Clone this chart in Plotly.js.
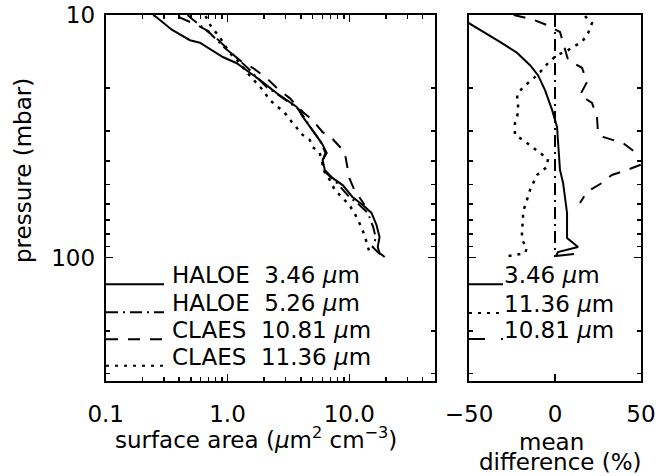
<!DOCTYPE html>
<html><head><meta charset="utf-8">
<script src="https://cdn.plot.ly/plotly-3.0.1.min.js"></script>
<style>body{margin:0;padding:0;background:#fff}</style>
</head><body><div id="chart" style="width:656px;height:476px"></div>
<script>
// ---- Left panel: surface area (um^2 cm^-3) vs pressure (mbar)
const haloe346P = [10.0, 10.1, 11.5, 12.7, 13.0, 14.9, 15.8, 16.5, 18.5, 21.0, 21.8, 23.9, 26.3, 29.8, 33.7, 37.0, 39.6, 43.5, 47.0, 50.2, 56.2, 60.6, 65.4, 73.3, 82.2, 90.3, 95.7, 99.3];
const haloe346S = [0.245, 0.254, 0.349, 0.491, 0.593, 0.915, 1.19, 1.34, 1.84, 2.54, 2.84, 3.70, 4.15, 5.0, 5.93, 6.52, 6.04, 6.28, 7.3, 8.81, 10.6, 12.9, 15.2, 16.7, 17.7, 17.1, 17.7, 19.5];

const haloe526P = [10.0, 10.2, 11.0, 11.9, 13.5, 15.0, 16.9, 19.8, 21.0, 24.6, 28.9, 32.7, 37.0, 40.0, 43.5, 49.2, 56.2, 60.6, 65.4, 74.8, 83.0, 90.3, 95.7, 99.3];
const haloe526S = [0.47, 0.49, 0.59, 0.72, 0.92, 1.19, 1.53, 2.09, 2.5, 3.9, 4.75, 5.7, 6.37, 6.0, 6.1, 7.9, 10.0, 12.1, 14.2, 15.7, 16.5, 15.5, 17.4, 19.4];

const claes1081P = [10.2, 11.0, 11.75, 14.6, 15.6, 16.5, 18.2, 20.0, 22.0, 25.1, 27.1, 30.4, 32.1, 36.7, 40.7, 47.0, 52.6, 58.9, 60.5];
const claes1081S = [0.40, 0.56, 0.72, 1.12, 1.31, 1.61, 2.10, 2.54, 3.24, 4.15, 5.0, 6.04, 7.16, 9.15, 9.5, 10.0, 11.0, 12.9, 13.3];

const claes1136P = [10.1, 11.3, 12.3, 13.0, 14.6, 15.3, 17.2, 19.1, 20.4, 22.4, 23.9, 25.3, 27.6, 29.2, 31.2, 32.7, 35.0, 37.0, 40.7, 44.4, 47.8, 52.6, 56.2, 60.7, 65.4, 71.9, 80.6, 87.0, 95.7];
const claes1136S = [0.66, 0.743, 0.865, 0.915, 1.08, 1.19, 1.44, 1.74, 1.95, 2.22, 2.58, 2.95, 3.37, 3.70, 4.14, 4.73, 5.0, 5.71, 6.04, 6.28, 6.90, 7.59, 8.65, 10.0, 11.0, 12.1, 13.3, 13.9, 14.7];

// ---- Right panel: mean difference (%) vs pressure (mbar)
const diff346P = [10.0, 10.8, 11.75, 12.9, 14.3, 16.1, 17.7, 20.4, 24.6, 28.9, 32.7, 37.0, 43.5, 49.2, 56.2, 65.4, 74.8, 83.0, 90.3, 94.8, 98.4, 96.6];
const diff346D = [-58, -50, -41.9, -32.0, -22.1, -14.5, -9.9, -5.8, -1.7, 1.2, 1.7, 2.3, 2.9, 4.7, 5.8, 7.0, 7.0, 7.0, 13.4, 1.7, 0.6, 11.0];

const diff526P = [10.0, 30.0, 60.0, 99.3];
const diff526D = [0, 0, 0, 0];

const diff1136P = [10.1, 10.8, 11.9, 12.9, 13.55, 14.2, 14.6, 15.8, 17.2, 18.5, 19.8, 21.4, 23.1, 25.3, 27.9, 31.2, 32.7, 35.0, 37.0, 39.2, 42.3, 45.6, 52.6, 57.8, 64.8, 70.0, 76.9, 84.5, 91.2, 95.7, 97.5, 99.3];
const diff1136D = [17.4, 21.5, 19.2, 15.7, 10.5, 5.8, 1.2, -4.1, -8.7, -13.4, -18.6, -22.1, -21.5, -21.5, -23.3, -23.3, -18.6, -12.8, -8.7, -4.1, -4.7, -10.5, -14.5, -16.3, -18.6, -18.6, -19.2, -19.2, -16.3, -17.4, -23.3, -30.2];

const diff1081P = [10.0, 10.2, 10.4, 11.0, 11.75, 15.3, 16.5, 18.9, 21.4, 23.0, 26.3, 30.6, 31.8, 33.7, 36.7, 39.0, 41.5, 43.5, 45.6, 49.2, 53.6, 59.5];
const diff1081D = [-24, -19.2, -13.4, -4.7, 2.9, 7.6, 15.7, 18.6, 14.5, 21.5, 24.4, 25.0, 27.9, 39.5, 46.5, 56, 49.4, 41.9, 33.1, 27.3, 18.6, 14.5];

// ---- ticks / labels
const yTickVals = [10, 100];
const yTickText = ['10', '100'];
const yMinor = [20, 30, 40, 50, 60, 70, 80, 90, 200, 300];
const xTickVals = [0.1, 1, 10];
const xTickText = ['0.1', '1.0', '10.0'];
const xMinor = [0.2, 0.3, 0.4, 0.5, 0.6, 0.7, 0.8, 0.9, 2, 3, 4, 5, 6, 7, 8, 9, 20, 30, 40];
const x2TickVals = [-50, 0, 50];

const leftLegend = ['HALOE  3.46 <i>μ</i>m', 'HALOE  5.26 <i>μ</i>m', 'CLAES  10.81 <i>μ</i>m', 'CLAES  11.36 <i>μ</i>m'];
const rightLegend = ['3.46 <i>μ</i>m', '11.36 <i>μ</i>m', '10.81 <i>μ</i>m'];

// ---- styling
const W = 656, H = 476;
const fx = v => v / W, fy = v => 1 - v / H;
const FONT = 'DejaVu Sans, sans-serif';
const FS = 23;
const DASHDOT = '12px,5px,2px,5px';
const DASH = '12px,10px';
const DOT = '3px,6px';

function tr(x, y, dash, xa, ya) {
  return {x: x, y: y, type: 'scatter', mode: 'lines', xaxis: xa, yaxis: ya, showlegend: false,
          hoverinfo: 'skip', line: {color: '#000', width: dash === DOT ? 2.5 : 2, dash: dash}};
}
// invisible copies that make the minor-tick overlay axes exist
function ghost(x, y, xa, ya) {
  return {x: x, y: y, type: 'scatter', mode: 'lines', xaxis: xa, yaxis: ya, showlegend: false,
          hoverinfo: 'skip', opacity: 0, line: {width: 0}};
}
const data = [
  ghost(haloe346S, haloe346P, 'x3', 'y3'),
  ghost(diff346D, diff346P, 'x2', 'y4'),
  tr(haloe346S, haloe346P, 'solid', 'x', 'y'),
  tr(haloe526S, haloe526P, DASHDOT, 'x', 'y'),
  tr(claes1081S, claes1081P, DASH, 'x', 'y'),
  tr(claes1136S, claes1136P, DOT, 'x', 'y'),
  tr(diff346D, diff346P, 'solid', 'x2', 'y2'),
  tr(diff526D, diff526P, DASHDOT, 'x2', 'y2'),
  tr(diff1081D, diff1081P, DASH, 'x2', 'y2'),
  tr(diff1136D, diff1136P, DOT, 'x2', 'y2')
];

const yDom = [fy(381.3), fy(15)];
const yRange = [Math.log10(323), 1];
const xDom = [fx(105.7), fx(434.5)];
const xRange = [-1, Math.log10(50)];
const axCommon = {showline: true, linecolor: '#000', linewidth: 2, mirror: 'ticks', showgrid: false, zeroline: false,
  ticks: 'inside', ticklen: 7, tickwidth: 1.5, tickcolor: '#000', tickmode: 'array', autorange: false,
  tickfont: {family: FONT, size: 23, color: '#000'}};
const minorAx = {showline: false, mirror: 'ticks', showgrid: false, zeroline: false, showticklabels: false, autorange: false,
  ticks: 'inside', ticklen: 4, tickwidth: 1.5, tickcolor: '#000', tickmode: 'array'};

const layout = {
  width: W, height: H, margin: {l: 0, r: 0, t: 0, b: 0},
  paper_bgcolor: '#fff', plot_bgcolor: '#fff', showlegend: false,
  font: {family: FONT, size: FS, color: '#000'},
  xaxis: Object.assign({}, axCommon, {domain: xDom, type: 'log', range: xRange,
    tickvals: xTickVals, ticktext: xTickText, anchor: 'y', ticklabelstandoff: 11}),
  yaxis: Object.assign({}, axCommon, {domain: yDom, type: 'log', range: yRange, anchor: 'x',
    tickvals: yTickVals, ticktext: yTickText, ticklabelstandoff: 4}),
  xaxis2: Object.assign({}, axCommon, {domain: [fx(469), fx(641)], range: [-50, 50], anchor: 'y2',
    tickvals: x2TickVals, ticklabelstandoff: 11}),
  yaxis2: Object.assign({}, axCommon, {domain: yDom, type: 'log', range: yRange, anchor: 'x2',
    tickvals: yTickVals, showticklabels: false}),
  // minor tick axes
  xaxis3: Object.assign({}, minorAx, {domain: xDom, type: 'log', range: xRange, overlaying: 'x', anchor: 'y3', side: 'bottom', tickvals: xMinor}),
  yaxis3: Object.assign({}, minorAx, {domain: yDom, type: 'log', range: yRange, overlaying: 'y', anchor: 'x3', side: 'left', tickvals: yMinor}),
  yaxis4: Object.assign({}, minorAx, {domain: yDom, type: 'log', range: yRange, overlaying: 'y2', anchor: 'x2', side: 'left', tickvals: yMinor}),
  shapes: [],
  annotations: []
};

const leftY = [284.3, 312.3, 339.3, 365.7];
const leftDash = ['solid', DASHDOT, DASH, DOT];
leftLegend.forEach((t, i) => {
  layout.shapes.push({type: 'line', xref: 'paper', yref: 'paper', x0: fx(106), x1: fx(164), y0: fy(leftY[i]), y1: fy(leftY[i]),
    line: {color: '#000', width: 2, dash: leftDash[i]}});
  layout.annotations.push({text: t, xref: 'paper', yref: 'paper', x: fx(170), y: fy(leftY[i] - 9), xanchor: 'left', yanchor: 'middle',
    showarrow: false, font: {family: FONT, size: FS, color: '#000'}});
});
const rightY = [284.3, 313, 339];
const rightDash = ['solid', DOT, '16px,16px'];
rightLegend.forEach((t, i) => {
  layout.shapes.push({type: 'line', xref: 'paper', yref: 'paper', x0: fx(469), x1: fx(503), y0: fy(rightY[i]), y1: fy(rightY[i]),
    line: {color: '#000', width: 2, dash: rightDash[i]}});
  layout.annotations.push({text: t, xref: 'paper', yref: 'paper', x: fx(502), y: fy(rightY[i] - 9), xanchor: 'left', yanchor: 'middle',
    showarrow: false, font: {family: FONT, size: FS, color: '#000'}});
});

layout.annotations.push({text: 'pressure (mbar)', xref: 'paper', yref: 'paper', x: fx(23), y: fy(171), textangle: -90,
  xanchor: 'center', yanchor: 'middle', showarrow: false, font: {family: FONT, size: FS, color: '#000'}});
layout.annotations.push({text: 'surface area (<i>μ</i>m<sup>2</sup> cm<sup>−3</sup>)', xref: 'paper', yref: 'paper', x: fx(113), y: fy(438),
  xanchor: 'left', yanchor: 'middle', showarrow: false, font: {family: FONT, size: FS, color: '#000'}});
layout.annotations.push({text: 'mean', xref: 'paper', yref: 'paper', x: fx(551), y: fy(442),
  xanchor: 'center', yanchor: 'middle', showarrow: false, font: {family: FONT, size: FS, color: '#000'}});
layout.annotations.push({text: 'difference (%)', xref: 'paper', yref: 'paper', x: fx(560), y: fy(462),
  xanchor: 'center', yanchor: 'middle', showarrow: false, font: {family: FONT, size: FS, color: '#000'}});

Plotly.newPlot('chart', data, layout, {staticPlot: true, displayModeBar: false});
</script></body></html>
